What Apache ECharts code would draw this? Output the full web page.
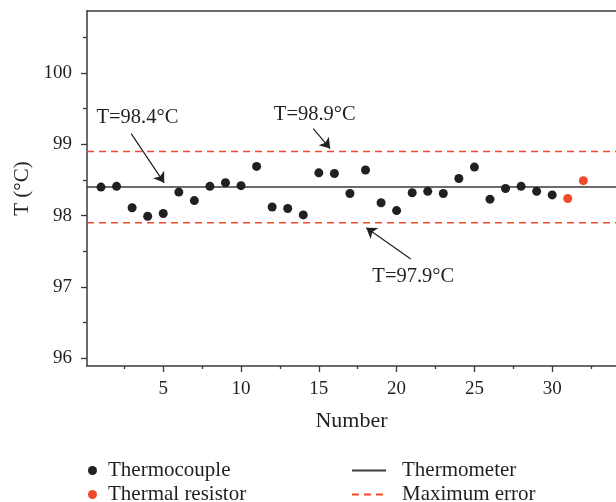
<!DOCTYPE html>
<html>
<head>
<meta charset="utf-8">
<script src="https://cdn.jsdelivr.net/npm/echarts@6/dist/echarts.min.js"></script>
<style>html,body{margin:0;padding:0;background:#fff}#c{width:616px;height:502px}</style>
</head>
<body>
<div id="c"></div>
<script>
// ---- data ----
const thermocoupleNumbers = [1,2,3,4,5,6,7,8,9,10,11,12,13,14,15,16,17,18,19,20,21,22,23,24,25,26,27,28,29,30];
const thermocoupleValues = [98.40,98.41,98.11,97.99,98.03,98.33,98.21,98.41,98.46,98.42,98.69,98.12,98.10,98.01,98.60,98.59,98.31,98.64,98.18,98.07,98.32,98.34,98.31,98.52,98.68,98.23,98.38,98.41,98.34,98.29];
const resistorNumbers = [31,32];
const resistorValues = [98.24,98.49];
const thermometerValue = 98.4;
const maxErrorUpper = 98.9;
const maxErrorLower = 97.9;
const xTickLabels = [5,10,15,20,25,30];
const xMinorTicks = [2.5,7.5,12.5,17.5,22.5,27.5,32.5];
const yTickLabels = [96,97,98,99,100];
const yMinorTicks = [96.5,97.5,98.5,99.5,100.5];
const xRange = [0.1, 34.1];
const yRange = [95.89, 100.87];
const annotationTexts = ['T=98.4°C','T=98.9°C','T=97.9°C'];
const annotationTextAt = [[3.34,99.37],[14.74,99.42],[21.07,97.14]];
const annotationArrowFrom = [[2.94,99.15],[14.64,99.22],[20.91,97.39]];
const annotationArrowTo = [[5.06,98.46],[15.73,98.94],[18.05,97.83]];

// ---- chart ----
const FONT = 'Liberation Serif';
const TXT = '#231f20';
const AX = '#3a3a3a';
const RED = '#ef4a2c';
const chart = echarts.init(document.getElementById('c'));

const zip = (xs, ys) => xs.map((x, i) => [x, ys[i]]);
const hline = v => [[xRange[0], v], [xRange[1], v]];

const legText = pad => ({ fontFamily: FONT, fontSize: 21, color: TXT, padding: [0, 0, 0, pad] });
const legendBase = { orient: 'horizontal', selectedMode: false };

chart.setOption({
  animation: false,
  grid: { left: 87, top: 11, width: 529, height: 355 },
  legend: [
    Object.assign({}, legendBase, { data: ['Thermocouple'], left: 83, top: 455, itemWidth: 17, itemHeight: 9, textStyle: legText(2) }),
    Object.assign({}, legendBase, { data: ['Thermal resistor'], left: 83, top: 479, itemWidth: 17, itemHeight: 9, textStyle: legText(2) }),
    Object.assign({}, legendBase, { data: [{ name: 'Thermometer', itemStyle: { opacity: 0 } }], left: 346, top: 455, itemWidth: 34, itemHeight: 14, textStyle: legText(11) }),
    Object.assign({}, legendBase, { data: [{ name: 'Maximum error', itemStyle: { opacity: 0 } }], left: 346, top: 479, itemWidth: 34, itemHeight: 14, textStyle: legText(11) })
  ],
  xAxis: [
    {
      type: 'value', min: xRange[0], max: xRange[1], position: 'bottom',
      name: 'Number', nameLocation: 'middle', nameGap: 44,
      nameTextStyle: { fontFamily: FONT, fontSize: 22, color: TXT },
      axisLine: { show: true, onZero: false, lineStyle: { color: AX, width: 1.5 } },
      axisTick: { show: true, inside: false, length: 6, customValues: xTickLabels, lineStyle: { color: AX, width: 1.3 } },
      axisLabel: { customValues: xTickLabels, margin: 14, fontFamily: FONT, fontSize: 19, color: TXT },
      splitLine: { show: false }
    },
    {
      type: 'value', min: xRange[0], max: xRange[1], position: 'bottom',
      axisLine: { show: false, onZero: false },
      axisTick: { show: true, inside: false, length: 3, customValues: xMinorTicks, lineStyle: { color: AX, width: 1.3 } },
      axisLabel: { show: false }, splitLine: { show: false }
    },
    {
      type: 'value', min: xRange[0], max: xRange[1], position: 'top',
      axisLine: { show: true, onZero: false, lineStyle: { color: AX, width: 1.5 } },
      axisTick: { show: false }, axisLabel: { show: false }, splitLine: { show: false }
    }
  ],
  yAxis: [
    {
      type: 'value', min: yRange[0], max: yRange[1], position: 'left',
      name: 'T (°C)', nameLocation: 'middle', nameGap: 54,
      nameTextStyle: { fontFamily: FONT, fontSize: 21, color: TXT },
      axisLine: { show: true, onZero: false, lineStyle: { color: AX, width: 1.5 } },
      axisTick: { show: true, inside: false, length: 6, customValues: yTickLabels, lineStyle: { color: AX, width: 1.3 } },
      axisLabel: { customValues: yTickLabels, margin: 15, fontFamily: FONT, fontSize: 19, color: TXT },
      splitLine: { show: false }
    },
    {
      type: 'value', min: yRange[0], max: yRange[1], position: 'left',
      axisLine: { show: false, onZero: false },
      axisTick: { show: true, inside: false, length: 4, customValues: yMinorTicks, lineStyle: { color: AX, width: 1.3 } },
      axisLabel: { show: false }, splitLine: { show: false }
    }
  ],
  series: [
    {
      name: 'Thermometer', type: 'line', data: hline(thermometerValue), symbol: 'none',
      lineStyle: { color: AX, width: 1.5 }, itemStyle: { color: AX }, z: 1
    },
    {
      name: 'Maximum error', type: 'line', data: hline(maxErrorUpper), symbol: 'none',
      lineStyle: { color: RED, width: 1.4, type: [7, 5] }, itemStyle: { color: RED }, z: 1
    },
    {
      name: 'Maximum error', type: 'line', data: hline(maxErrorLower), symbol: 'none',
      lineStyle: { color: RED, width: 1.4, type: [7, 5] }, itemStyle: { color: RED }, z: 1
    },
    {
      name: 'Thermocouple', type: 'scatter', data: zip(thermocoupleNumbers, thermocoupleValues),
      symbol: 'circle', symbolSize: 9, itemStyle: { color: TXT, opacity: 1 }, z: 3
    },
    {
      name: 'Thermal resistor', type: 'scatter', data: zip(resistorNumbers, resistorValues),
      symbol: 'circle', symbolSize: 9, itemStyle: { color: RED, opacity: 1 }, z: 3
    },
    {
      name: 'annotations', type: 'scatter', data: [], silent: true, z: 4,
      markLine: {
        silent: true, animation: false,
        symbol: ['none', 'arrow'], symbolSize: 10,
        label: { show: false },
        lineStyle: { color: TXT, width: 1.2, type: 'solid' },
        itemStyle: { color: TXT },
        data: annotationArrowFrom.map((p, i) => [{ coord: p }, { coord: annotationArrowTo[i] }])
      },
      markPoint: {
        silent: true, animation: false,
        symbol: 'circle', symbolSize: 0,
        label: { show: true, position: 'inside', fontFamily: FONT, fontSize: 20.5, color: TXT, formatter: p => p.name },
        data: annotationTexts.map((t, i) => ({ name: t, coord: annotationTextAt[i] }))
      }
    }
  ]
});
</script>
</body>
</html>
